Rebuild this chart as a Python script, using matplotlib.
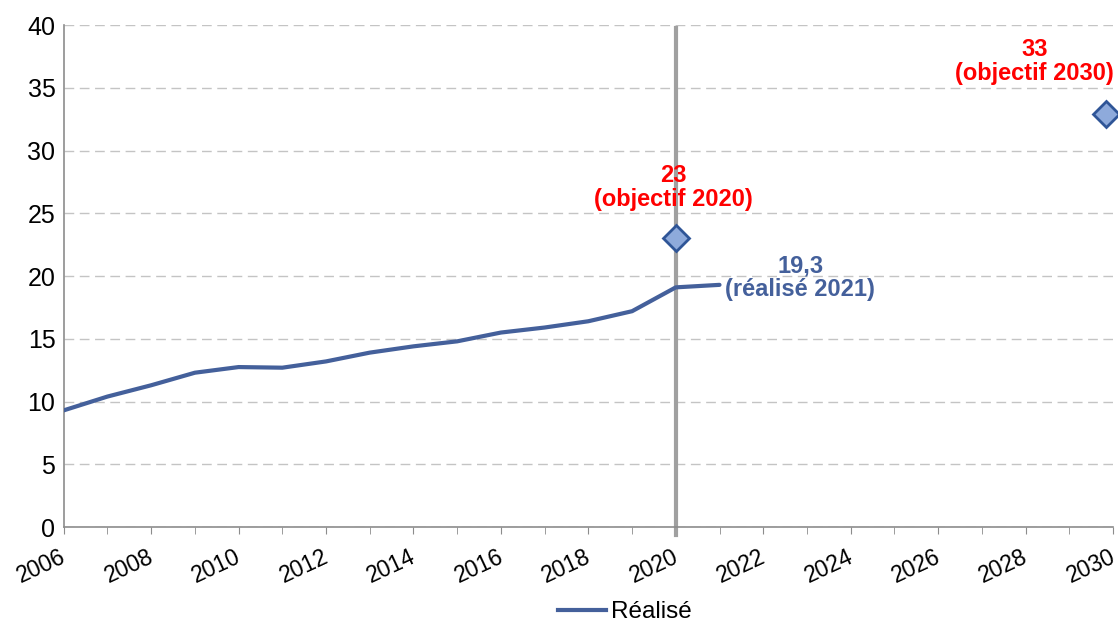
import matplotlib
matplotlib.use("Agg")
import matplotlib.pyplot as plt
import matplotlib.transforms as mtransforms
from matplotlib.lines import Line2D

# Data
years = [2006, 2007, 2008, 2009, 2010, 2011, 2012, 2013, 2014, 2015,
         2016, 2017, 2018, 2019, 2020, 2021]
realise = [9.3, 10.4, 11.3, 12.3, 12.75, 12.7, 13.2, 13.9, 14.4, 14.8,
           15.5, 15.9, 16.4, 17.2, 19.1, 19.3]
target_years = [2020, 2029.85]
target_values = [23, 32.9]
target_labels = ["23\n(objectif 2020)", "33\n(objectif 2030)"]
last_label = "19,3\n(réalisé 2021)"

blue = "#44609b"
red = "#ff0000"

plt.rcParams["font.family"] = ["Liberation Sans", "DejaVu Sans"]

fig = plt.figure(figsize=(11.18, 6.26), dpi=100)
ax = fig.add_axes([0.057, 0.158, 0.9385, 0.802])

ax.set_xlim(2006, 2030)
ax.set_ylim(0, 40)
ax.set_yticks(range(0, 41, 5))
ax.set_xticks(range(2006, 2031, 2))
ax.set_xticks(range(2006, 2031, 1), minor=True)
ax.yaxis.grid(True, color="#c4c4c4", linestyle=(0, (7, 4)), linewidth=1)
ax.set_axisbelow(True)

for s in ["top", "right"]:
    ax.spines[s].set_visible(False)
for s in ["left", "bottom"]:
    ax.spines[s].set_color("#8c8c8c")
    ax.spines[s].set_linewidth(1.2)

ax.tick_params(axis="y", length=0, labelsize=18, pad=6)
ax.tick_params(axis="x", which="both", length=5, color="#8c8c8c",
               direction="out", pad=8)
# nudge the rotated year labels a little to the left so 2030 stays inside
shift = mtransforms.ScaledTranslation(-4 / 100, 0, fig.dpi_scale_trans)
for lbl in ax.get_xticklabels():
    lbl.set_fontsize(16.5)
    lbl.set_rotation(25)
    lbl.set_ha("right")
    lbl.set_rotation_mode("anchor")
    lbl.set_transform(lbl.get_transform() + shift)

# vertical marker for 2020
ax.axvline(2020, ymin=-0.015, ymax=39.8 / 40, color="#a0a0a0", linewidth=3,
           zorder=2, clip_on=False)

ax.plot(years, realise, color=blue, linewidth=3, zorder=3, solid_capstyle="round")
ax.plot(target_years, target_values, linestyle="none", marker="D", markersize=13,
        markerfacecolor="#8eaadb", markeredgecolor="#2f5597", markeredgewidth=2,
        zorder=4, clip_on=False)

ax.text(2019.95, 25.2, target_labels[0], color=red, fontsize=17, fontweight="bold",
        ha="center", va="bottom", linespacing=1.05)
ax.text(2028.2, 35.2, target_labels[1], color=red, fontsize=17, fontweight="bold",
        ha="center", va="bottom", linespacing=1.05)
ax.text(years[-1] + 1.85, realise[-1] - 1.3, last_label, color=blue, fontsize=17,
        fontweight="bold", ha="center", va="bottom", linespacing=1.05)

handle = Line2D([], [], color=blue, linewidth=3)
fig.legend([handle], ["Réalisé"], loc="center", bbox_to_anchor=(0.559, 0.022),
           frameon=False, handlelength=2.0, handletextpad=0.2,
           prop={"size": 17.5})

fig.savefig("out.png", dpi=100)
